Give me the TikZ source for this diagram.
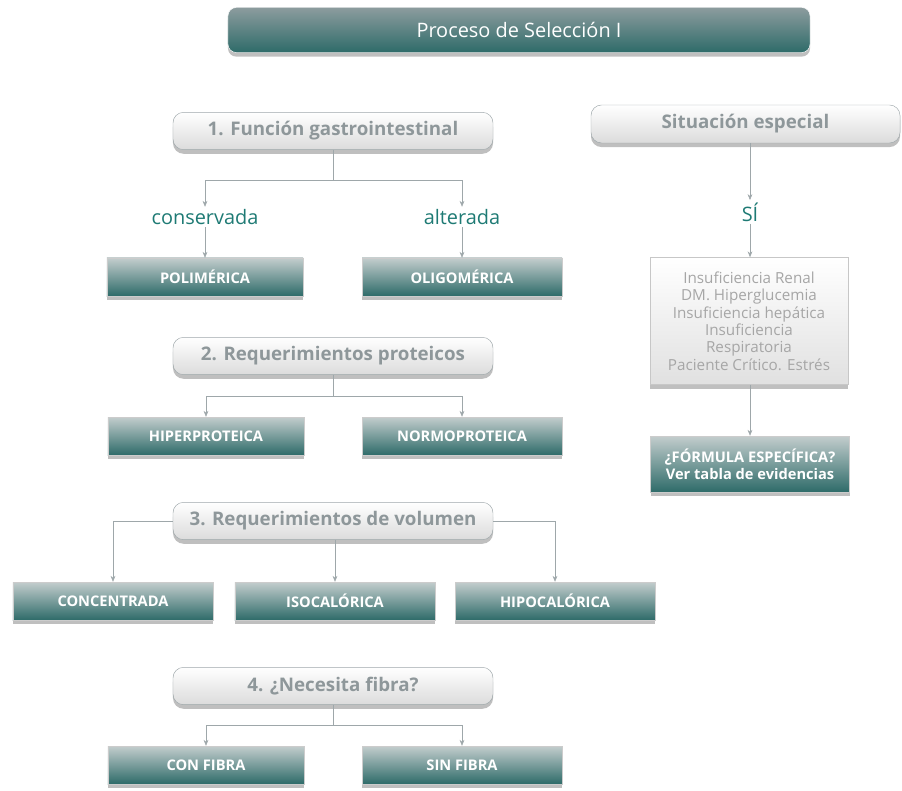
\documentclass[tikz,border=0pt]{standalone}
\usepackage{fontspec}
\setmainfont{Open Sans}
\usetikzlibrary{arrows.meta,shadows}

\definecolor{tealdark}{HTML}{2E6B69}
\definecolor{tealtop}{HTML}{C3CDCD}
\definecolor{titletop}{HTML}{8C9C9E}
\definecolor{greytext}{HTML}{8E979A}
\definecolor{greyline}{HTML}{9EA7AA}
\definecolor{tealtext}{HTML}{1E7A74}

\tikzset{
	shade/.style={drop shadow={opacity=0.5,shadow xshift=0pt,shadow yshift=-3.5pt}},
	titlebox/.style={shade,rounded corners=7pt,draw=white,top color=titletop,bottom color=tealdark,
		text=white,font=\fontsize{17}{20}\selectfont,minimum width=17.46cm,minimum height=1.35cm},
	question/.style={shade,rounded corners=9pt,draw=greyline,top color=white,bottom color=black!14,
		text=greytext,font=\bfseries\fontsize{16}{19}\selectfont,minimum width=9.6cm,minimum height=1.12cm},
	answer/.style={shade,draw=black!20,top color=tealtop,bottom color=tealdark,
		text=white,font=\bfseries\fontsize{12.5}{15}\selectfont,minimum width=5.88cm,minimum height=1.14cm},
	cond/.style={text=tealtext,font=\fontsize{17}{20}\selectfont,inner sep=2pt},
	arrow/.style={-{Stealth[length=5pt,width=4pt]},greyline,thin},
	link/.style={greyline,thin}
}

\begin{document}
\begin{tikzpicture}[x=0.03cm,y=-0.03cm]
	\useasboundingbox (0,0) rectangle (902,791);
	
	\node[titlebox] (title) at (519,30) {Proceso de Selección I};
	
	% 1. funcion gastrointestinal
	\node[question] (fgi) at (333,131) {1. Función gastrointestinal};
	\node[cond] (cons) at (205,217) {conservada};
	\node[cond] (alt) at (462,217) {alterada};
	\node[answer] (polim) at (205,277) {POLIMÉRICA};
	\node[answer,minimum width=6cm] (oligo) at (462,277) {OLIGOMÉRICA};
	\coordinate (j1) at (333,180);
	
	\draw[link] (fgi) -- (j1);
	\draw[arrow] (j1) -| (cons);
	\draw[arrow] (j1) -| (alt);
	\draw[arrow] (cons) -- (polim);
	\draw[arrow] (alt) -- (oligo);
	
	% 2. requerimientos proteicos
	\node[question] (prot) at (333,356) {2. Requerimientos proteicos};
	\node[answer] (hiper) at (206,436) {HIPERPROTEICA};
	\node[answer,minimum width=6cm] (normo) at (462,436) {NORMOPROTEICA};
	\coordinate (j2) at (333,396);
	
	\draw[link] (prot) -- (j2);
	\draw[arrow] (j2) -| (hiper);
	\draw[arrow] (j2) -| (normo);
	
	% 3. requerimientos de volumen
	\node[question] (vol) at (333,521) {3. Requerimientos de volumen};
	\node[answer,minimum width=6cm] (conc) at (113,601) {CONCENTRADA};
	\node[answer,minimum width=6cm] (iso) at (335,601) {ISOCALÓRICA};
	\node[answer,minimum width=6cm] (hipo) at (555,601) {HIPOCALÓRICA};
	
	\draw[arrow] (vol.west) -| (conc);
	\draw[arrow] (vol.south -| iso) -- (iso);
	\draw[arrow] (vol.east) -| (hipo);
	
	% 4. fibra
	\node[question] (fib) at (333,686) {4. ¿Necesita fibra?};
	\node[answer] (confib) at (206,765) {CON FIBRA};
	\node[answer,minimum width=6cm] (sinfib) at (462,765) {SIN FIBRA};
	\coordinate (j4) at (333,725);
	
	\draw[link] (fib) -- (j4);
	\draw[arrow] (j4) -| (confib);
	\draw[arrow] (j4) -| (sinfib);
	
	% situacion especial
	\node[question,minimum width=9.27cm,minimum height=1.14cm] (sit) at (745.5,124) {Situación especial};
	\node[cond] (si) at (750,212) {SÍ};
	\node[shade,draw=black!22,top color=white,bottom color=black!12,text=black!35,
		font=\fontsize{13}{14.8}\selectfont,align=center,minimum width=5.94cm,minimum height=3.81cm] (enf) at (749,321)
		{Insuficiencia Renal\\DM. Hiperglucemia\\Insuficiencia hepática\\Insuficiencia\\Respiratoria\\Paciente Crítico. Estrés};
	\node[answer,align=center,minimum width=5.97cm,minimum height=1.68cm,font=\bfseries\fontsize{12.5}{14.5}\selectfont] (form) at (750,464)
		{¿FÓRMULA ESPECÍFICA?\\Ver tabla de evidencias};
	
	\draw[arrow] (sit.south -| si) -- (si);
	\draw[arrow] (si) -- (enf.north -| si);
	\draw[arrow] (enf.south -| si) -- (form.north -| si);
\end{tikzpicture}
\end{document}
